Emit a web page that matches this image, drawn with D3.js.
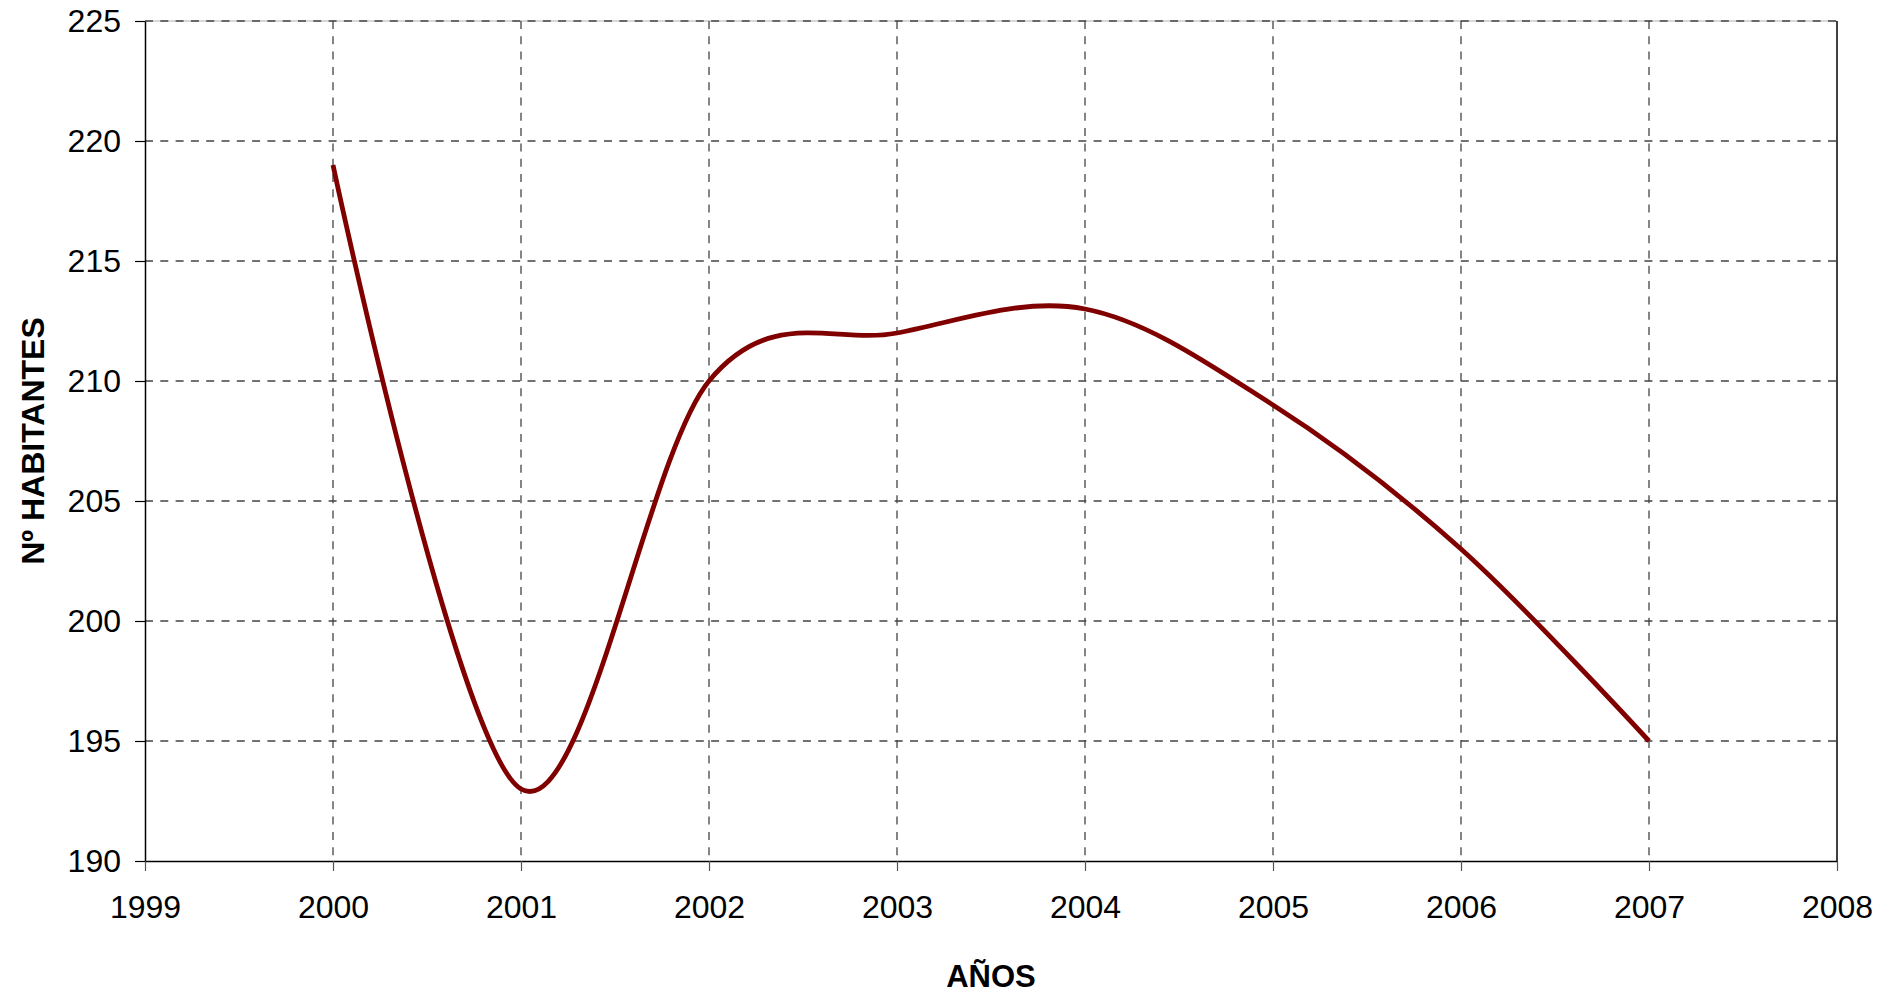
<!DOCTYPE html>
<html>
<head>
<meta charset="utf-8">
<script src="https://cdn.jsdelivr.net/npm/d3@7"></script>
<style>
  html, body { margin: 0; padding: 0; background: #fff; }
  svg { display: block; }
</style>
</head>
<body>
<svg id="chart" width="1894" height="995"></svg>
<script>
// ---- data ----
const years = [2000, 2001, 2002, 2003, 2004, 2005, 2006, 2007];
const habitantes = [219, 193, 210, 212, 213, 209, 203, 195];
const xTicks = [1999, 2000, 2001, 2002, 2003, 2004, 2005, 2006, 2007, 2008];
const yTicks = [190, 195, 200, 205, 210, 215, 220, 225];
const xTitle = "AÑOS";
const yTitle = "Nº HABITANTES";

// ---- layout ----
const L = 145, R = 1837, T = 21, B = 861;
const svg = d3.select("#chart");
const x = d3.scaleLinear().domain([1999, 2008]).range([L, R]);
const y = d3.scaleLinear().domain([190, 225]).range([B, T]);
const font = "'Liberation Sans', Arial, sans-serif";

// plot border (top light)
svg.append("line").attr("x1", L).attr("x2", R).attr("y1", T).attr("y2", T)
  .attr("stroke", "#b0b0b0").attr("stroke-width", 1);

// gridlines
const grid = svg.append("g").attr("stroke", "#444").attr("stroke-width", 1.3)
  .attr("stroke-dasharray", "8,7.3").attr("fill", "none");
grid.selectAll("line.h").data(yTicks.filter(d => d > 190)).join("line")
  .attr("x1", L).attr("x2", R)
  .attr("y1", d => y(d)).attr("y2", d => y(d));
grid.selectAll("line.v").data(xTicks.filter(d => d > 1999 && d < 2008)).join("line")
  .attr("class", "v")
  .attr("x1", d => x(d)).attr("x2", d => x(d))
  .attr("y1", T).attr("y2", B);

// right border
svg.append("line").attr("x1", R).attr("x2", R).attr("y1", T).attr("y2", B)
  .attr("stroke", "#000").attr("stroke-width", 1.5);

// axes
const xAxis = svg.append("g").attr("transform", `translate(0,${B})`)
  .call(d3.axisBottom(x).tickValues(xTicks).tickFormat(d3.format("d"))
    .tickSize(10).tickSizeOuter(0).tickPadding(24));
const yAxis = svg.append("g").attr("transform", `translate(${L},0)`)
  .call(d3.axisLeft(y).tickValues(yTicks).tickFormat(d3.format("d"))
    .tickSize(10).tickSizeOuter(0).tickPadding(14));
[xAxis, yAxis].forEach(g => {
  g.select(".domain").attr("stroke", "#000").attr("stroke-width", 1.5);
  g.selectAll(".tick line").attr("stroke", "#000").attr("stroke-width", 1.2);
  g.selectAll(".tick text").attr("font-family", font).attr("font-size", 32).attr("fill", "#000");
});
xAxis.selectAll(".tick line").attr("stroke", "#555");

// line
const line = d3.line()
  .x((d, i) => x(years[i]))
  .y(d => y(d))
  .curve(d3.curveCatmullRom.alpha(0));
svg.append("path").datum(habitantes)
  .attr("d", line)
  .attr("fill", "none")
  .attr("stroke", "#800000")
  .attr("stroke-width", 4.8)
  .attr("stroke-linejoin", "round");

// titles
svg.append("text").attr("x", 991).attr("y", 987)
  .attr("text-anchor", "middle").attr("font-family", font)
  .attr("font-weight", "bold").attr("font-size", 31).text(xTitle);
svg.append("text").attr("transform", "translate(44,441) rotate(-90)")
  .attr("text-anchor", "middle").attr("font-family", font)
  .attr("font-weight", "bold").attr("font-size", 32).text(yTitle);
</script>
</body>
</html>
